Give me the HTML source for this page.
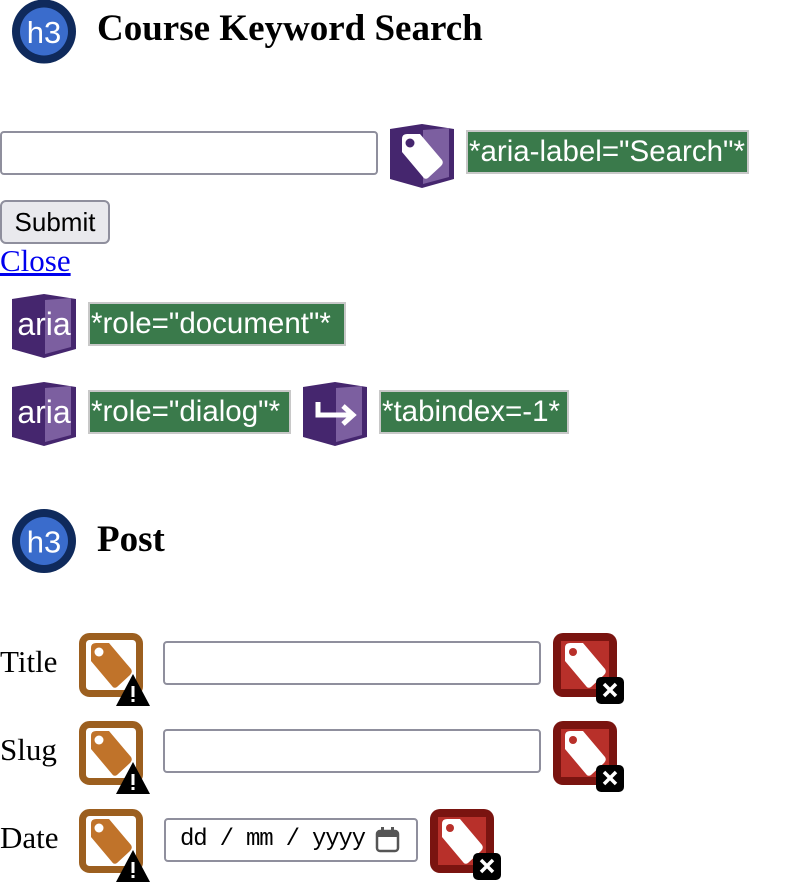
<!DOCTYPE html>
<html><head><meta charset="utf-8"><style>
body{margin:0;width:808px;height:884px;background:#fff;position:relative;overflow:hidden;font-family:"Liberation Serif",serif}
.a{position:absolute}
.h{font-weight:bold;font-size:37px;color:#000;line-height:1}
.inp{position:absolute;box-sizing:border-box;border:2px solid #8f8f9d;border-radius:4px;background:#fff}
.lbl{position:absolute;box-sizing:border-box;background:#3a7a4b;border:2px solid #c8c8c8;color:#fff;font-family:"Liberation Sans",sans-serif;font-size:29.5px;line-height:39px;padding-left:1px;white-space:nowrap;overflow:hidden}
.t{font-size:31px;line-height:1;color:#000}
</style></head><body>

<svg class="a" style="left:12px;top:0" width="64" height="64"><circle cx="32" cy="31.5" r="32" fill="#0f2a5c"/><circle cx="32" cy="31.5" r="24" fill="#3a6ccc"/><text x="32" y="43" text-anchor="middle" font-family="Liberation Sans,sans-serif" font-size="31" fill="#fff">h3</text></svg>
<div class="a h" style="left:97px;top:10px">Course Keyword Search</div>

<div class="inp" style="left:0;top:131px;width:378px;height:44px"></div>
<svg class="a" style="left:390px;top:124px" width="64" height="64"><path d="M0 5L32 0L64 5L64 55L32 64L0 55Z" fill="#45266e"/><path d="M33 6L59 4L59 53L33 60Z" fill="#7c5fa0"/><path d="M12 15Q12 10 17 10L30 10L52 36Q54 39 51 42L38 54Q35 56 33 53L12 28Z" fill="#fff"/><circle cx="20" cy="19" r="4.5" fill="#45266e"/></svg>
<div class="lbl" style="left:466px;top:130px;width:283px;height:44px">*aria-label="Search"*</div>

<div class="a" style="left:0;top:200px;width:110px;height:44px;box-sizing:border-box;border:2px solid #8f8f9d;border-radius:6px;background:#e9e9ed;font-family:'Liberation Sans',sans-serif;font-size:26px;line-height:40px;text-align:center">Submit</div>
<div class="a" style="left:0;top:245px;font-size:31px;color:#0000ee;text-decoration:underline;line-height:32px">Close</div>

<svg class="a" style="left:12px;top:294px" width="64" height="64"><path d="M0 5L32 0L64 5L64 55L32 64L0 55Z" fill="#45266e"/><path d="M33 6L59 4L59 53L33 60Z" fill="#7c5fa0"/><text x="32" y="41" text-anchor="middle" font-family="Liberation Sans,sans-serif" font-size="32" fill="#fff">aria</text></svg>
<div class="lbl" style="left:88px;top:302px;width:258px;height:44px">*role="document"*</div>

<svg class="a" style="left:12px;top:382px" width="64" height="64"><path d="M0 5L32 0L64 5L64 55L32 64L0 55Z" fill="#45266e"/><path d="M33 6L59 4L59 53L33 60Z" fill="#7c5fa0"/><text x="32" y="41" text-anchor="middle" font-family="Liberation Sans,sans-serif" font-size="32" fill="#fff">aria</text></svg>
<div class="lbl" style="left:88px;top:390px;width:203px;height:44px">*role="dialog"*</div>
<svg class="a" style="left:303px;top:382px" width="64" height="64"><path d="M0 5L32 0L64 5L64 55L32 64L0 55Z" fill="#45266e"/><path d="M33 6L59 4L59 53L33 60Z" fill="#7c5fa0"/><path d="M15 20V33H48" stroke="#fff" stroke-width="5" fill="none"/><path d="M40 24L50 33L40 42" stroke="#fff" stroke-width="5" fill="none"/></svg>
<div class="lbl" style="left:379px;top:390px;width:190px;height:44px">*tabindex=-1*</div>

<svg class="a" style="left:12px;top:509px" width="64" height="64"><circle cx="32" cy="32" r="32" fill="#0f2a5c"/><circle cx="32" cy="32" r="24" fill="#3a6ccc"/><text x="32" y="43.5" text-anchor="middle" font-family="Liberation Sans,sans-serif" font-size="31" fill="#fff">h3</text></svg>
<div class="a h" style="left:97px;top:521px">Post</div>

<div class="a t" style="left:0;top:646px">Title</div>
<div class="a t" style="left:0;top:734px">Slug</div>
<div class="a t" style="left:0;top:822px">Date</div>

<svg class="a" style="left:79px;top:633px" width="72" height="74"><rect x="3.5" y="3.5" width="57" height="57" rx="7" fill="#fff" stroke="#9c5f1f" stroke-width="7"/><path d="M12 15Q12 10 17 10L30 10L52 36Q54 39 51 42L38 54Q35 56 33 53L12 28Z" fill="#c0732a"/><circle cx="20" cy="19" r="4.5" fill="#fff"/><path d="M54 41L71 73L37 73Z" fill="#000"/><rect x="52.5" y="53" width="3" height="11" fill="#fff"/><rect x="52.5" y="66" width="3" height="3" fill="#fff"/></svg>
<svg class="a" style="left:79px;top:721px" width="72" height="74"><rect x="3.5" y="3.5" width="57" height="57" rx="7" fill="#fff" stroke="#9c5f1f" stroke-width="7"/><path d="M12 15Q12 10 17 10L30 10L52 36Q54 39 51 42L38 54Q35 56 33 53L12 28Z" fill="#c0732a"/><circle cx="20" cy="19" r="4.5" fill="#fff"/><path d="M54 41L71 73L37 73Z" fill="#000"/><rect x="52.5" y="53" width="3" height="11" fill="#fff"/><rect x="52.5" y="66" width="3" height="3" fill="#fff"/></svg>
<svg class="a" style="left:79px;top:809px" width="72" height="75"><rect x="3.5" y="3.5" width="57" height="57" rx="7" fill="#fff" stroke="#9c5f1f" stroke-width="7"/><path d="M12 15Q12 10 17 10L30 10L52 36Q54 39 51 42L38 54Q35 56 33 53L12 28Z" fill="#c0732a"/><circle cx="20" cy="19" r="4.5" fill="#fff"/><path d="M54 41L71 73L37 73Z" fill="#000"/><rect x="52.5" y="53" width="3" height="11" fill="#fff"/><rect x="52.5" y="66" width="3" height="3" fill="#fff"/></svg>

<div class="inp" style="left:163px;top:641px;width:378px;height:44px"></div>
<div class="inp" style="left:163px;top:729px;width:378px;height:44px"></div>
<div class="inp" style="left:164px;top:818px;width:254px;height:44px;font-family:'Liberation Mono',monospace;font-size:24px;letter-spacing:-1.2px;line-height:40px;padding-left:14px;color:#000;white-space:nowrap">dd / mm / yyyy</div>
<svg class="a" style="left:375px;top:826px" width="26" height="28"><rect x="2" y="5" width="21" height="20" rx="3" fill="none" stroke="#555" stroke-width="2.5"/><rect x="2" y="5" width="21" height="6" fill="#555"/><rect x="6" y="1" width="3" height="6" fill="#555"/><rect x="16" y="1" width="3" height="6" fill="#555"/></svg>

<svg class="a" style="left:553px;top:633px" width="72" height="72"><rect x="0" y="0" width="64" height="64" rx="10" fill="#7a1410"/><rect x="8" y="8" width="48" height="48" fill="#b8302a"/><path d="M12 15Q12 10 17 10L30 10L52 36Q54 39 51 42L38 54Q35 56 33 53L12 28Z" fill="#fff"/><circle cx="20" cy="19" r="4" fill="#b8302a"/><rect x="43" y="44" width="28" height="27" rx="5" fill="#000"/><path d="M51 51L63 63M63 51L51 63" stroke="#fff" stroke-width="3.5"/></svg>
<svg class="a" style="left:553px;top:721px" width="72" height="72"><rect x="0" y="0" width="64" height="64" rx="10" fill="#7a1410"/><rect x="8" y="8" width="48" height="48" fill="#b8302a"/><path d="M12 15Q12 10 17 10L30 10L52 36Q54 39 51 42L38 54Q35 56 33 53L12 28Z" fill="#fff"/><circle cx="20" cy="19" r="4" fill="#b8302a"/><rect x="43" y="44" width="28" height="27" rx="5" fill="#000"/><path d="M51 51L63 63M63 51L51 63" stroke="#fff" stroke-width="3.5"/></svg>
<svg class="a" style="left:430px;top:809px" width="72" height="72"><rect x="0" y="0" width="64" height="64" rx="10" fill="#7a1410"/><rect x="8" y="8" width="48" height="48" fill="#b8302a"/><path d="M12 15Q12 10 17 10L30 10L52 36Q54 39 51 42L38 54Q35 56 33 53L12 28Z" fill="#fff"/><circle cx="20" cy="19" r="4" fill="#b8302a"/><rect x="43" y="44" width="28" height="27" rx="5" fill="#000"/><path d="M51 51L63 63M63 51L51 63" stroke="#fff" stroke-width="3.5"/></svg>

</body></html>
